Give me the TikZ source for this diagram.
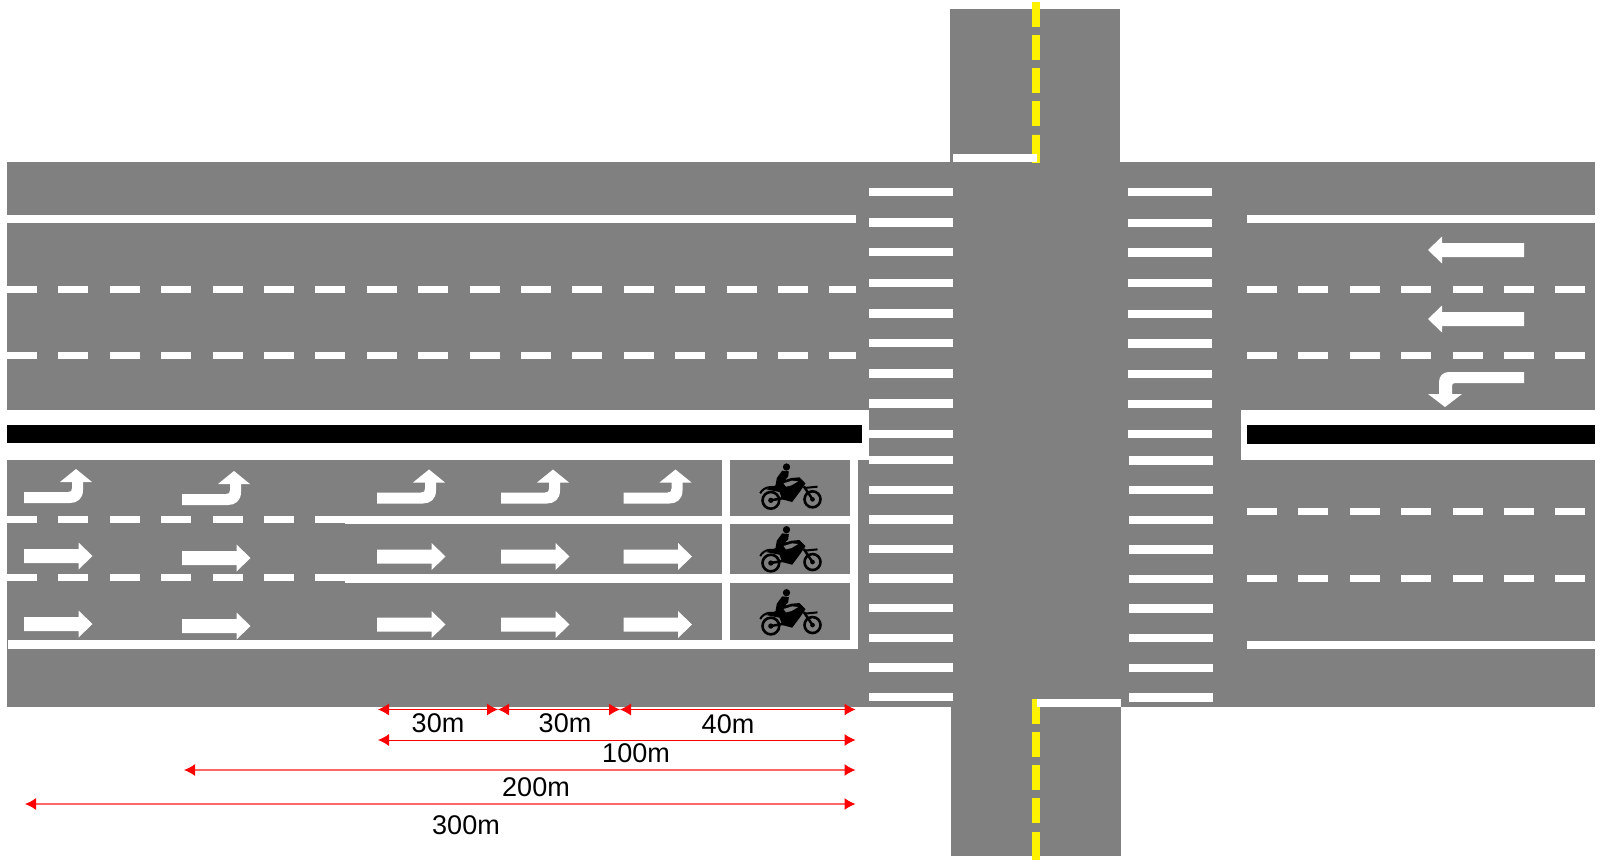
\documentclass[tikz,border=0pt]{standalone}
\usepackage{fontspec}
\setmainfont{Liberation Sans}
\usetikzlibrary{arrows.meta}
\definecolor{roadgrey}{HTML}{808080}
\tikzset{
  lanedash/.style={white,line width=7pt,dash pattern=on 30pt off 21.4pt},
  centredash/.style={yellow,line width=8pt,dash pattern=on 25pt off 8pt},
  dimline/.style={red,line width=1pt,{Latex[length=11pt,width=12pt,color=red]}-{Latex[length=11pt,width=12pt,color=red]}},
  dimpale/.style={dimline,draw=red!60,line width=1.3pt},
  dimlabel/.style={font=\fontsize{27}{30}\selectfont,text=black,inner sep=0pt},
  turnarrow/.pic={
    \fill[white] (0,0) -- (44,0) .. controls (47,0) and (48,-1) .. (48,-4) -- (48,-10) -- (36,-10) -- (52,-23) -- (68,-10) -- (59,-10) -- (59,-2) .. controls (59,7) and (53,11) .. (46,11) -- (0,11) -- cycle;
  },
  straightarrow/.pic={
    \fill[white] (0,-7) -- (54.5,-7) -- (54.5,-13.5) -- (68.5,0) -- (54.5,13.5) -- (54.5,7) -- (0,7) -- cycle;
  },
  motorbike/.pic={
    \begin{scope}[x=0.3333pt,y=-0.3333pt]
    \draw[black,line width=2.6pt] (46,127) circle (25) (171,124) circle (24);
    \fill[black] (46,127) circle (8) (171,124) circle (7);
    \draw[black,line width=2pt] (14,106) .. controls (25,84) and (58,80) .. (76,100);
    \draw[black,line width=2pt] (146,90) -- (186,86);
    \draw[black,line width=2.5pt] (46,127) -- (85,120) (171,124) -- (145,85);
    \fill[black] (93,27) circle (11);
    \fill[black] (80,38) -- (100,40) -- (98,56) -- (88,66) -- (108,60) -- (132,58) -- (150,76) -- (134,100) -- (110,132) -- (80,124) -- (72,102) -- (32,94) -- (60,82) -- (64,60) -- cycle;
    \fill[roadgrey] (84,76) -- (110,68) -- (128,70) -- (108,82) -- (92,86) -- cycle;
    \end{scope}
  },
}
\begin{document}
\begin{tikzpicture}[x=1pt,y=-1pt]
\useasboundingbox (0,0) rectangle (1600,863);
% road surface
\fill[roadgrey] (7,162) rectangle (1595,707);
\fill[roadgrey] (950,9) rectangle (1120,162);
\fill[roadgrey] (951,707) rectangle (1121,856);
% centre line of the cross road
\draw[centredash] (1036,2) -- (1036,134);
\fill[yellow] (1032,135) rectangle (1040,163);
\draw[centredash] (1036,699) -- (1036,825);
\fill[yellow] (1032,832) rectangle (1040,860);
\fill[white] (953,154) rectangle (1037,162);
\fill[white] (1037,699) rectangle (1121,707);
% left arm, upper half
\fill[white] (5,214.5) rectangle (856,222.5);
\draw[lanedash] (7,289) -- (856,289);
\draw[lanedash] (7,355) -- (856,355);
% median
\fill[white] (7,410) rectangle (869,460);
\fill[black] (7,424.5) rectangle (862,443);
\fill[white] (1241,410) rectangle (1595,460);
\fill[black] (1247,425) rectangle (1595,443.5);
% left arm, lanes with waiting areas
\fill[white] (8,640) rectangle (858,649);
\fill[white] (850,452) rectangle (858,649);
\fill[white] (722,452) rectangle (730,649);
\fill[white] (345,516) rectangle (850,524);
\fill[white] (345,574) rectangle (850,582.5);
\draw[lanedash] (7,519.5) -- (345,519.5);
\draw[lanedash] (7,577.5) -- (345,577.5);
% crossings
\foreach \y in {191.8,222.4,252,282.7,313.3,342.9,373.5,403.5,433.7}{
  \fill[white] (869,\y-4.2) rectangle (953,\y+4.2);
  \fill[white] (1128,\y-3.8) rectangle (1212,\y+4.6);
}
\foreach \y in {460.2,489.8,519.4,549,578.6,608.2,637.8,667.3,697}{
  \fill[white] (869,\y-4.2) rectangle (953,\y+4.2);
  \fill[white] (1129,\y-3.8) rectangle (1213,\y+4.6);
}
% right arm
\fill[white] (1247,214.5) rectangle (1595,222.5);
\fill[white] (1247,640.5) rectangle (1595,649);
\foreach \y in {289,355,511,578}
  \draw[lanedash] (1247,\y) -- (1590,\y);
% turn and straight marks
\foreach \x/\dy in {24/0,182/2,377/0.5,501/0.5,623.5/0.5}{
  \pic at (\x,492+\dy) {turnarrow};
  \pic at (\x,556+\dy) {straightarrow};
  \pic at (\x,624+\dy) {straightarrow};
}
\foreach \y in {250,319}
  \fill[white] (1524,\y-7) -- (1442,\y-7) -- (1442,\y-13.5) -- (1428,\y) -- (1442,\y+13.5) -- (1442,\y+7) -- (1524,\y+7) -- cycle;
\fill[white] (1524,372) -- (1449,372) .. controls (1443,372) and (1439,376) .. (1439,382) -- (1439,394) -- (1428,394) -- (1445,407) -- (1462,394) -- (1452,394) -- (1452,386) .. controls (1452,384) and (1453,383) .. (1455,383) -- (1524,383) -- cycle;
% bikes
\foreach \y in {458,520.7,583.7}
  \pic at (755.5,\y) {motorbike};
% distances
\coordinate (d0) at (378,709.5);
\coordinate (d1) at (498,709.5);
\coordinate (d2) at (620,709.5);
\coordinate (d3) at (855.5,709.5);
\coordinate (e0) at (378,740);
\coordinate (e1) at (855.5,740);
\coordinate (f0) at (184,770);
\coordinate (f1) at (855.5,770);
\coordinate (g0) at (25,804);
\coordinate (g1) at (855.5,804);
\draw[dimline] (d0) -- (d1);
\draw[dimline] (d1) -- (d2);
\draw[dimline] (d2) -- (d3);
\draw[dimline] (e0) -- (e1);
\draw[dimpale] (f0) -- (f1);
\draw[dimpale] (g0) -- (g1);
\node[dimlabel] (l30a) at (438,723) {30m};
\node[dimlabel] (l30b) at (565,723) {30m};
\node[dimlabel] (l40) at (728,724) {40m};
\node[dimlabel] (l100) at (636,753) {100m};
\node[dimlabel] (l200) at (536,787) {200m};
\node[dimlabel] (l300) at (466,825) {300m};
\end{tikzpicture}
\end{document}
